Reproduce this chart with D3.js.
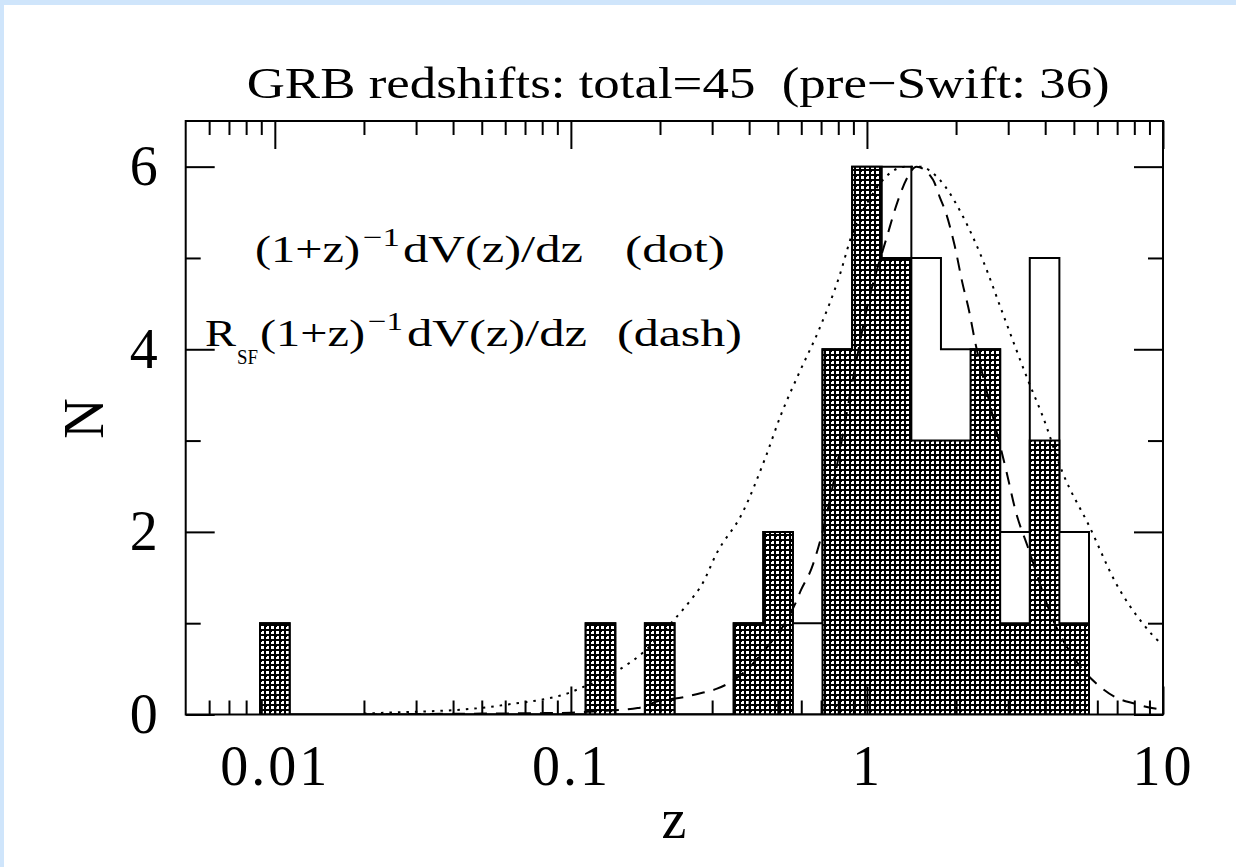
<!DOCTYPE html>
<html>
<head>
<meta charset="utf-8">
<script src="https://cdn.jsdelivr.net/npm/d3@7"></script>
<style>
  body { margin: 0; background: #cfe5fb; }
  svg { display: block; }
  text { font-family: "Liberation Serif", "Times New Roman", serif; fill: #000; white-space: pre; }
</style>
</head>
<body>
<svg id="chart" width="1236" height="867"></svg>
<script>
// histogram bins (centres in log10 z, width 0.1 dex)
var binLogZ  = [-2.0, -0.9, -0.7, -0.4, -0.3, -0.2, -0.1, 0.0, 0.1, 0.2, 0.3, 0.4, 0.5, 0.6, 0.7];
var allGRB   = [1, 1, 1, 1, 2, 1, 4, 6, 6, 5, 4, 4, 2, 5, 2];   // total = 45
var preSwift = [1, 1, 1, 1, 2, 0, 4, 6, 5, 3, 3, 4, 1, 3, 1];   // = 36

// (1+z)^-1 dV/dz  (dotted)
var dotZ = [0.02, 0.0263, 0.0398, 0.0502, 0.0635, 0.0802, 0.0986, 0.108, 0.1455, 0.177, 0.2235, 0.252,
            0.279, 0.309, 0.38, 0.456, 0.512, 0.59, 0.69, 0.807, 0.893, 1.018, 1.159, 1.355, 1.503,
            1.757, 2.106, 2.46, 2.87, 3.53, 3.92, 4.58, 5.64, 6.93, 8.53, 9.84, 10];
var dotN = [0.01, 0.025, 0.047, 0.073, 0.117, 0.164, 0.237, 0.29, 0.49, 0.69, 1.04, 1.24,
            1.44, 1.75, 2.21, 2.83, 3.28, 3.74, 4.22, 4.80, 5.27, 5.64, 5.89, 6.0, 6.0,
            5.86, 5.46, 4.98, 4.40, 3.63, 3.27, 2.65, 2.06, 1.44, 1.0, 0.785, 0.77];

// R_SF (1+z)^-1 dV/dz  (dashed)
var dashZ = [0.02, 0.03, 0.05, 0.08, 0.1, 0.13, 0.168, 0.199, 0.24, 0.28, 0.31, 0.36, 0.45, 0.57, 0.6,
             0.65, 0.70, 0.8, 0.9, 1.0, 1.17, 1.27, 1.38, 1.47, 1.67, 1.76, 1.85, 1.98, 2.10, 2.22,
             2.31, 2.6, 2.95, 3.19, 3.49, 4.3, 5.0, 6.0, 6.9, 8.0, 8.9, 10];
var dashN = [0.0, 0.005, 0.01, 0.015, 0.02, 0.04, 0.07, 0.15, 0.19, 0.24, 0.28, 0.39, 0.7, 1.2, 1.37,
             1.6, 1.94, 2.8, 3.7, 4.45, 5.24, 5.62, 5.9, 6.0, 5.86, 5.67, 5.49, 5.13, 4.73, 4.40,
             4.11, 3.4, 2.68, 2.21, 1.84, 1.0, 0.62, 0.33, 0.19, 0.12, 0.08, 0.05];

var xMajor = [0.01, 0.1, 1, 10];
var xLabels = ["0.01", "0.1", "1", "10"];
var xMinor = [0.006, 0.007, 0.008, 0.009, 0.02, 0.03, 0.04, 0.05, 0.06, 0.07, 0.08, 0.09,
              0.2, 0.3, 0.4, 0.5, 0.6, 0.7, 0.8, 0.9, 2, 3, 4, 5, 6, 7, 8, 9];
var yMajor = [0, 2, 4, 6];
var yMinor = [1, 3, 5];

var svg = d3.select("#chart");
svg.append("rect").attr("x", 4).attr("y", 5).attr("width", 1232).attr("height", 862).attr("fill", "#fff");

var L = 185.7, R = 1163, T = 121, B = 714.5;
var x = d3.scaleLog().domain([0.005, 10]).range([L, R]);
var y = d3.scaleLinear().domain([0, 6.5]).range([B, T]);

// cross-hatch fill pattern
var defs = svg.append("defs");
var pat = defs.append("pattern").attr("id", "hatch").attr("patternUnits", "userSpaceOnUse")
  .attr("width", 10).attr("height", 10).attr("shape-rendering", "crispEdges");
pat.append("rect").attr("width", 10).attr("height", 10).attr("fill", "#000");
[[1, 1], [6, 6]].forEach(function(p) {
  pat.append("rect").attr("x", p[0]).attr("y", p[1] + 0.5).attr("width", 3).attr("height", 2).attr("fill", "#fff");
  pat.append("rect").attr("x", p[0] + 0.5).attr("y", p[1]).attr("width", 2).attr("height", 3).attr("fill", "#fff");
});
[[6, 1], [1, 6]].forEach(function(p) {
  pat.append("rect").attr("x", p[0]).attr("y", p[1]).attr("width", 3).attr("height", 3).attr("fill", "#fff");
});
defs.append("clipPath").attr("id", "clip").append("rect")
  .attr("x", L).attr("y", T).attr("width", R - L).attr("height", B - T);

function stepPoints(counts) {
  var pts = [], prevHi = null;
  binLogZ.forEach(function(c, i) {
    var lo = c - 0.05, hi = c + 0.05;
    if (prevHi === null || Math.abs(lo - prevHi) > 1e-6) {
      if (prevHi !== null) pts.push([Math.pow(10, prevHi), 0]);
      pts.push([Math.pow(10, lo), 0]);
    }
    pts.push([Math.pow(10, lo), counts[i]], [Math.pow(10, hi), counts[i]]);
    prevHi = hi;
  });
  pts.push([Math.pow(10, prevHi), 0]);
  return pts;
}

var line = d3.line().x(function(d) { return x(d[0]); }).y(function(d) { return y(d[1]); });
var plot = svg.append("g").attr("clip-path", "url(#clip)");

plot.append("path").attr("d", line(stepPoints(allGRB)))
  .attr("fill", "none").attr("stroke", "#000").attr("stroke-width", 2);
plot.append("path").attr("d", line(stepPoints(preSwift)) + "Z")
  .attr("fill", "url(#hatch)").attr("stroke", "#000").attr("stroke-width", 2);

var curve = d3.line().curve(d3.curveMonotoneX)
  .x(function(d) { return x(d[0]); }).y(function(d) { return y(d[1]); });
plot.append("path").attr("d", curve(d3.zip(dotZ, dotN)))
  .attr("fill", "none").attr("stroke", "#000").attr("stroke-width", 2).attr("stroke-dasharray", "2.5,6");
plot.append("path").attr("d", curve(d3.zip(dashZ, dashN)))
  .attr("fill", "none").attr("stroke", "#000").attr("stroke-width", 2).attr("stroke-dasharray", "13,9");

// frame + ticks
function styleAxis(g) {
  g.select(".domain").remove();
  g.selectAll(".tick line").attr("stroke", "#000").attr("stroke-width", 2);
}
svg.append("g").attr("transform", "translate(0," + B + ")")
  .call(d3.axisBottom(x).tickValues(xMinor).tickSize(-14).tickFormat("")).call(styleAxis);
var xb = svg.append("g").attr("transform", "translate(0," + B + ")")
  .call(d3.axisBottom(x).tickValues(xMajor).tickSize(-28).tickPadding(31)
    .tickFormat(function(d, i) { return xLabels[i]; })).call(styleAxis);
svg.append("g").attr("transform", "translate(0," + T + ")")
  .call(d3.axisTop(x).tickValues(xMinor).tickSize(-14).tickFormat("")).call(styleAxis);
svg.append("g").attr("transform", "translate(0," + T + ")")
  .call(d3.axisTop(x).tickValues(xMajor).tickSize(-28).tickFormat("")).call(styleAxis);

svg.append("g").attr("transform", "translate(" + L + ",0)")
  .call(d3.axisLeft(y).tickValues(yMinor).tickSize(-15).tickFormat("")).call(styleAxis);
var yl = svg.append("g").attr("transform", "translate(" + L + ",0)")
  .call(d3.axisLeft(y).tickValues(yMajor).tickSize(-29).tickPadding(28).tickFormat(d3.format("d"))).call(styleAxis);
svg.append("g").attr("transform", "translate(" + R + ",0)")
  .call(d3.axisRight(y).tickValues(yMinor).tickSize(-15).tickFormat("")).call(styleAxis);
svg.append("g").attr("transform", "translate(" + R + ",0)")
  .call(d3.axisRight(y).tickValues(yMajor).tickSize(-29).tickFormat("")).call(styleAxis);

xb.selectAll(".tick text").attr("font-family", null).style("font-size", "56px").attr("letter-spacing", 3);
yl.selectAll(".tick text").attr("font-family", null).style("font-size", "56px");

svg.append("rect").attr("x", L).attr("y", T).attr("width", R - L).attr("height", B - T)
  .attr("fill", "none").attr("stroke", "#000").attr("stroke-width", 2);

// titles
svg.append("text").attr("x", 246.7).attr("y", 98).style("font-size", "45px")
  .attr("textLength", 863).attr("lengthAdjust", "spacingAndGlyphs")
  .text("GRB redshifts: total=45  (pre\u2212Swift: 36)");
svg.append("text").attr("x", 674).attr("y", 838).attr("text-anchor", "middle").style("font-size", "56px").text("z");
svg.append("text").attr("transform", "translate(103,418.5) rotate(-90)").attr("text-anchor", "middle")
  .style("font-size", "56px").text("N");

// legend text
function piece(t, px, py, size, len) {
  svg.append("text").attr("x", px).attr("y", py).style("font-size", size + "px")
    .attr("textLength", len).attr("lengthAdjust", "spacingAndGlyphs").text(t);
}
piece("(1+z)", 255, 262, 38, 105);
piece("\u22121", 363, 246, 26, 37);
piece("dV(z)/dz", 403, 262, 38, 180);
piece("(dot)", 625, 262, 38, 100);

piece("R", 205, 346, 38, 31);
piece("SF", 237, 364, 22, 21);
piece("(1+z)", 260, 346, 38, 105);
piece("\u22121", 368, 330, 26, 35);
piece("dV(z)/dz", 407, 346, 38, 180);
piece("(dash)", 617, 346, 38, 125);
</script>
</body>
</html>
